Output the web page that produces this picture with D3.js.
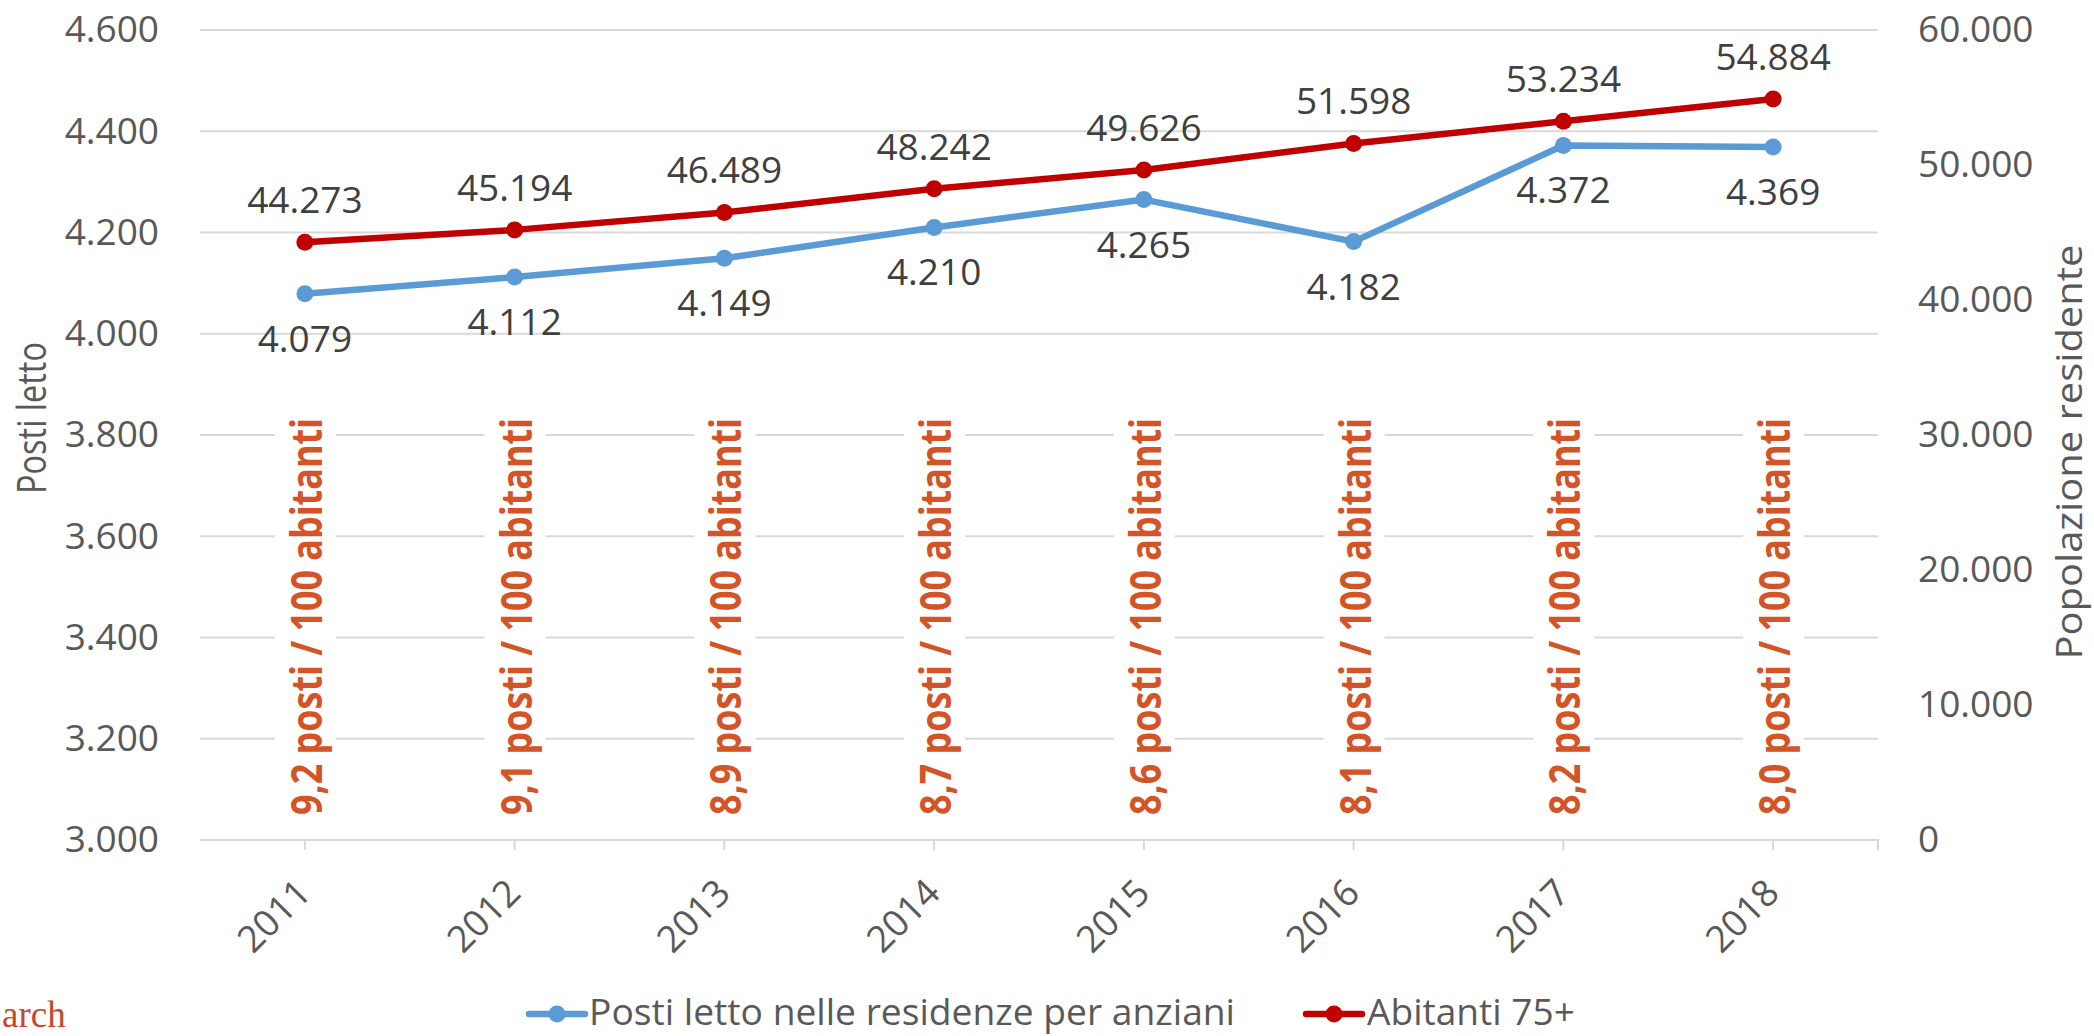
<!DOCTYPE html>
<html>
<head>
<meta charset="utf-8">
<script src="https://cdn.jsdelivr.net/npm/d3@7"></script>
<style>
  html, body { margin: 0; padding: 0; background: #fff; }
  svg { display: block; }
  text { font-family: "Open Sans", "Noto Sans", sans-serif; }
  text.source { font-family: "Liberation Serif", "DejaVu Serif", serif; }
</style>
</head>
<body>
<script>
// ---- data ----
const years = ["2011", "2012", "2013", "2014", "2015", "2016", "2017", "2018"];
const postiLetto = [4079, 4112, 4149, 4210, 4265, 4182, 4372, 4369];
const abitanti75 = [44273, 45194, 46489, 48242, 49626, 51598, 53234, 54884];
const rapporto = ["9,2", "9,1", "8,9", "8,7", "8,6", "8,1", "8,2", "8,0"];
const leftTicks = [3000, 3200, 3400, 3600, 3800, 4000, 4200, 4400, 4600];
const rightTicks = [0, 10000, 20000, 30000, 40000, 50000, 60000];
const seriesNames = ["Posti letto nelle residenze per anziani", "Abitanti 75+"];
const leftTitle = "Posti letto";
const rightTitle = "Popolazione residente";
const sourceText = "arch";

// ---- layout ----
const W = 2094, H = 1036;
const plot = { left: 200, right: 1878, top: 30, bottom: 840 };
const blue = "#5B9BD5", red = "#C00000", orange = "#D35427";
const grid = "#D9D9D9", axisText = "#595959", labelText = "#404040";

const it = d3.formatLocale({ decimal: ",", thousands: ".", grouping: [3], currency: ["€", ""] });
const fmt = it.format(",d");

const svg = d3.select("body").append("svg").attr("width", W).attr("height", H);

const x = d3.scaleBand().domain(years).range([plot.left, plot.right]).padding(0);
const cx = d => x(d) + x.bandwidth() / 2;
const yL = d3.scaleLinear().domain([3000, 4600]).range([plot.bottom, plot.top]);
const yR = d3.scaleLinear().domain([0, 60000]).range([plot.bottom, plot.top]);

// gridlines
svg.append("g").selectAll("line").data(leftTicks.slice(1)).join("line")
  .attr("x1", plot.left).attr("x2", plot.right)
  .attr("y1", d => yL(d)).attr("y2", d => yL(d))
  .attr("stroke", grid).attr("stroke-width", 2);

// left axis labels
const gL = svg.append("g").attr("transform", `translate(${plot.left},0)`)
  .call(d3.axisLeft(yL).tickValues(leftTicks).tickFormat(fmt).tickSize(0).tickPadding(41));
gL.select(".domain").remove();
gL.selectAll("text").attr("font-size", 37).attr("fill", axisText);

// right axis labels
const gR = svg.append("g").attr("transform", `translate(${plot.right},0)`)
  .call(d3.axisRight(yR).tickValues(rightTicks).tickFormat(fmt).tickSize(0).tickPadding(40));
gR.select(".domain").remove();
gR.selectAll("text").attr("font-size", 37).attr("fill", axisText);

// bottom axis
const gB = svg.append("g").attr("transform", `translate(0,${plot.bottom})`)
  .call(d3.axisBottom(x).tickSize(10).tickFormat(""));
gB.select(".domain").attr("d", `M${plot.left},0H${plot.right}V10`).attr("stroke", grid).attr("stroke-width", 2).attr("fill", "none");
gB.selectAll(".tick line").attr("stroke", grid).attr("stroke-width", 2);
svg.append("g").selectAll("text").data(years).join("text")
  .attr("transform", d => `translate(${cx(d) + 8},${plot.bottom + 55}) rotate(-45)`)
  .attr("text-anchor", "end")
  .attr("font-size", 37).attr("fill", axisText)
  .text(d => d);

// rotated ratio labels with white background
const ratioG = svg.append("g");
ratioG.selectAll("rect").data(years).join("rect")
  .attr("x", d => cx(d) - 30).attr("y", 405)
  .attr("width", 61).attr("height", 428)
  .attr("fill", "#fff");
ratioG.selectAll("text").data(years).join("text")
  .attr("transform", d => `translate(${cx(d) + 17},815) rotate(-90)`)
  .attr("text-anchor", "start")
  .attr("font-size", 43).attr("font-weight", 700).attr("fill", orange)
  .attr("textLength", 397).attr("lengthAdjust", "spacingAndGlyphs")
  .text((d, i) => `${rapporto[i]} posti / 100 abitanti`);

// lines
const lineL = d3.line().x((d, i) => cx(years[i])).y(d => yL(d));
const lineR = d3.line().x((d, i) => cx(years[i])).y(d => yR(d));

svg.append("path").datum(postiLetto).attr("d", lineL)
  .attr("fill", "none").attr("stroke", blue).attr("stroke-width", 6.5).attr("stroke-linejoin", "round").attr("stroke-linecap", "round");
svg.append("path").datum(abitanti75).attr("d", lineR)
  .attr("fill", "none").attr("stroke", red).attr("stroke-width", 6.5).attr("stroke-linejoin", "round").attr("stroke-linecap", "round");

svg.append("g").selectAll("circle").data(postiLetto).join("circle")
  .attr("cx", (d, i) => cx(years[i])).attr("cy", d => yL(d)).attr("r", 8.5).attr("fill", blue);
svg.append("g").selectAll("circle").data(abitanti75).join("circle")
  .attr("cx", (d, i) => cx(years[i])).attr("cy", d => yR(d)).attr("r", 8.5).attr("fill", red);

// data labels
svg.append("g").selectAll("text").data(postiLetto).join("text")
  .attr("x", (d, i) => cx(years[i])).attr("y", d => yL(d) + 58)
  .attr("text-anchor", "middle").attr("font-size", 37).attr("fill", labelText)
  .text(d => fmt(d));
svg.append("g").selectAll("text").data(abitanti75).join("text")
  .attr("x", (d, i) => cx(years[i])).attr("y", d => yR(d) - 29)
  .attr("text-anchor", "middle").attr("font-size", 37).attr("fill", labelText)
  .text(d => fmt(d));

// axis titles
svg.append("text")
  .attr("transform", `translate(46,418) rotate(-90)`)
  .attr("text-anchor", "middle").attr("font-size", 40).attr("fill", axisText)
  .attr("textLength", 152).attr("lengthAdjust", "spacingAndGlyphs")
  .text(leftTitle);
svg.append("text")
  .attr("transform", `translate(2082,452) rotate(-90)`)
  .attr("text-anchor", "middle").attr("font-size", 37).attr("fill", axisText)
  .attr("textLength", 415).attr("lengthAdjust", "spacingAndGlyphs")
  .text(rightTitle);

// legend
const legend = [
  { name: seriesNames[0], color: blue, x0: 529, tx: 589, len: 646 },
  { name: seriesNames[1], color: red, x0: 1306, tx: 1367, len: 208 }
];
const lg = svg.append("g");
legend.forEach(l => {
  lg.append("line").attr("x1", l.x0).attr("x2", l.x0 + 56).attr("y1", 1014).attr("y2", 1014)
    .attr("stroke", l.color).attr("stroke-width", 6.5).attr("stroke-linecap", "round");
  lg.append("circle").attr("cx", l.x0 + 28).attr("cy", 1014).attr("r", 8.5).attr("fill", l.color);
  lg.append("text").attr("x", l.tx).attr("y", 1025).attr("font-size", 36).attr("fill", axisText)
    .attr("textLength", l.len).attr("lengthAdjust", "spacingAndGlyphs")
    .text(l.name);
});

// source text fragment at bottom-left, as visible in the reference
svg.append("text").attr("class", "source").attr("x", 2).attr("y", 1027).attr("text-anchor", "start")
  .attr("font-size", 37).attr("fill", "#C8472A").text(sourceText);
</script>
</body>
</html>
